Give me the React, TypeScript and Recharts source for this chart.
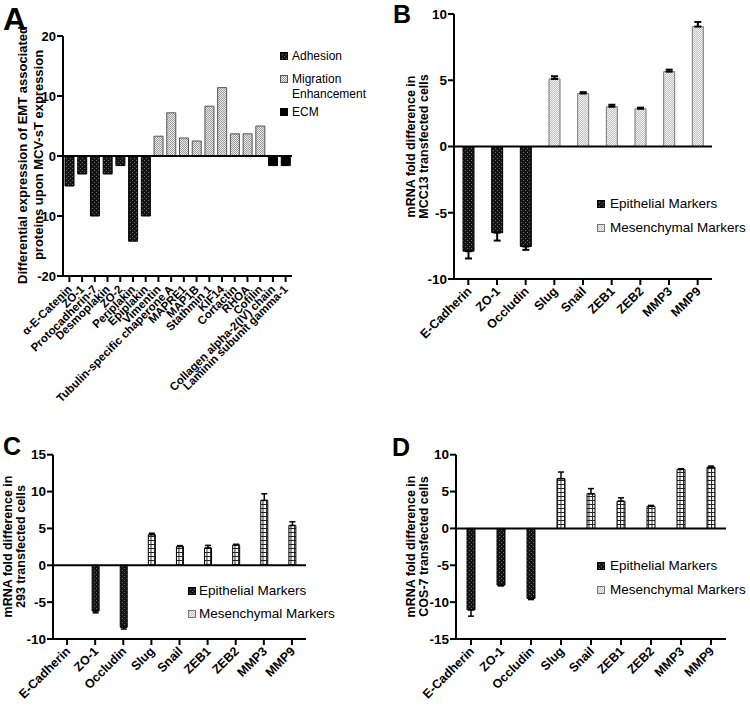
import React from 'react';
import { BarChart, Bar, XAxis, YAxis, Cell, ReferenceLine, ErrorBar } from 'recharts';

const FONT = '"Liberation Sans", Arial, Helvetica, sans-serif';

// ---------- Panel A data ----------
const aCategories = [
  'α-E-Catenin', 'ZO-1', 'Protocadherin-7', 'Desmoplakin', 'ZO-2', 'Periplakin', 'Epiplakin',
  'Vimentin', 'Tubulin-specific chaperone A', 'MAPRE1', 'MAP1B', 'Stathmin 1', 'KIF14', 'Cortactin',
  'RHOA', 'Cofilin', 'Collagen alpha-2(IV) chain', 'Laminin subunit gamma-1',
];
const aValues = [-5, -3, -10, -3, -1.6, -14.2, -10, 3.3, 7.2, 3, 2.5, 8.3, 11.4, 3.7, 3.7, 5, -1.6, -1.6];
const aGroups = [
  'Adhesion', 'Adhesion', 'Adhesion', 'Adhesion', 'Adhesion', 'Adhesion', 'Adhesion',
  'Migration', 'Migration', 'Migration', 'Migration', 'Migration', 'Migration', 'Migration', 'Migration', 'Migration',
  'ECM', 'ECM',
];
const aTicks = [-20, -10, 0, 10, 20];

// ---------- Panels B, C, D data ----------
const markers = ['E-Cadherin', 'ZO-1', 'Occludin', 'Slug', 'Snail', 'ZEB1', 'ZEB2', 'MMP3', 'MMP9'];
const markerGroups = ['Epithelial', 'Epithelial', 'Epithelial', 'Mesenchymal', 'Mesenchymal', 'Mesenchymal', 'Mesenchymal', 'Mesenchymal', 'Mesenchymal'];

const bValues = [-7.9, -6.5, -7.55, 5.1, 4.0, 3.0, 2.85, 5.65, 9.05];
const bErrors = [0.55, 0.6, 0.25, 0.2, 0.1, 0.15, 0.08, 0.15, 0.35];
const bTicks = [-10, -5, 0, 5, 10];

const cValues = [0, -6.2, -8.4, 4.15, 2.55, 2.35, 2.75, 8.8, 5.4];
const cErrors = [0, 0.25, 0.25, 0.2, 0.12, 0.35, 0.1, 0.9, 0.5];
const cTicks = [-10, -5, 0, 5, 10, 15];

const dValues = [-11.05, -7.7, -9.5, 6.75, 4.7, 3.7, 3.0, 8.0, 8.3];
const dErrors = [0.85, 0.1, 0.15, 0.9, 0.7, 0.45, 0.12, 0.1, 0.15];
const dTicks = [-15, -10, -5, 0, 5, 10];

const aData = aCategories.map((name, i) => ({ name, value: aValues[i], group: aGroups[i] }));
const buildMarkerData = (values: number[], errors: number[]) =>
  markers.map((name, i) => ({
    name,
    value: values[i],
    group: markerGroups[i],
    err: values[i] >= 0 ? [0, errors[i]] : [errors[i], 0],
  }));
const bData = buildMarkerData(bValues, bErrors);
const cData = buildMarkerData(cValues, cErrors);
const dData = buildMarkerData(dValues, dErrors);

// ---------- Patterns ----------
const Patterns = ({ s }: { s: string }) => (
  <defs>
    <pattern id={`dark${s}`} patternUnits="userSpaceOnUse" width={4} height={4}>
      <rect x={0} y={0} width={4} height={4} fill="#141414" />
      <rect x={0} y={0} width={1} height={1} fill="#6a6a6a" />
      <rect x={2} y={2} width={1} height={1} fill="#6a6a6a" />
    </pattern>
    <pattern id={`lightA${s}`} patternUnits="userSpaceOnUse" width={2} height={2}>
      <rect x={0} y={0} width={2} height={2} fill="#ececec" />
      <rect x={0} y={0} width={1} height={1} fill="#999" />
      <rect x={1} y={1} width={1} height={1} fill="#999" />
    </pattern>
    <pattern id={`lightB${s}`} patternUnits="userSpaceOnUse" width={2} height={2}>
      <rect x={0} y={0} width={2} height={2} fill="#f6f6f6" />
      <rect x={0} y={0} width={1} height={1} fill="#bdbdbd" />
      <rect x={1} y={1} width={1} height={1} fill="#bdbdbd" />
    </pattern>
    <pattern id={`dots${s}`} patternUnits="userSpaceOnUse" width={3.5} height={4}>
      <rect x={0} y={0} width={3.5} height={4} fill="#ffffff" />
      <rect x={0} y={0} width={3.5} height={1} fill="#222" />
      <rect x={0} y={0} width={1} height={4} fill="#222" />
    </pattern>
  </defs>
);

const RotTick = (props: any) => {
  const { x, y, payload, fs, ox, oy } = props;
  const px = x + ox;
  const py = y + oy;
  return (
    <text
      x={px}
      y={py}
      transform={`rotate(-45, ${px}, ${py})`}
      textAnchor="end"
      fontSize={fs}
      fontWeight="bold"
      fontFamily={FONT}
      fill="#000"
    >
      {payload.value}
    </text>
  );
};

const YLabel = ({ cx, cy, lines, fontSize, lineHeight, width }: any) => (
  <div
    style={{
      position: 'absolute',
      left: cx - width / 2,
      top: cy - (lines.length * lineHeight) / 2,
      width,
      height: lines.length * lineHeight,
      transform: 'rotate(-90deg)',
      transformOrigin: '50% 50%',
      textAlign: 'center',
      fontSize,
      lineHeight: `${lineHeight}px`,
      fontWeight: 'bold',
      fontFamily: FONT,
      whiteSpace: 'nowrap',
      color: '#000',
    }}
  >
    {lines.map((l: string, i: number) => (
      <div key={i}>{l}</div>
    ))}
  </div>
);

const Letter = ({ text, left, top, size }: any) => (
  <div
    style={{
      position: 'absolute',
      left,
      top,
      fontSize: size,
      lineHeight: `${size}px`,
      fontWeight: 'bold',
      fontFamily: FONT,
      color: '#000',
    }}
  >
    {text}
  </div>
);

const Swatch = ({ fill, stroke, s }: any) => (
  <svg width={8} height={8} style={{ display: 'block' }}>
    <Patterns s={s} />
    <rect x={0.5} y={0.5} width={7} height={7} fill={fill} stroke={stroke} strokeWidth={1} />
  </svg>
);

const LegendRow = ({ left, textLeft, cy, fontSize, lines, fill, stroke, s, lineHeight }: any) => (
  <>
    <div style={{ position: 'absolute', left, top: cy - 4 }}>
      <Swatch fill={fill} stroke={stroke} s={s} />
    </div>
    <div
      style={{
        position: 'absolute',
        left: textLeft,
        top: cy - lineHeight / 2,
        fontSize,
        lineHeight: `${lineHeight}px`,
        fontFamily: FONT,
        color: '#000',
        whiteSpace: 'nowrap',
      }}
    >
      {lines.map((l: string, i: number) => (
        <div key={i}>{l}</div>
      ))}
    </div>
  </>
);

const axisStyle = { stroke: '#000', strokeWidth: 2 };

const aFill: Record<string, string> = { Adhesion: 'url(#darkA)', Migration: 'url(#lightAA)', ECM: '#000' };
const aStroke: Record<string, string> = { Adhesion: '#000', Migration: '#555', ECM: '#000' };

const PanelA = () => (
  <div style={{ position: 'absolute', left: 0, top: 0 }}>
    <BarChart width={375} height={420} data={aData} margin={{ top: 36, right: 83, bottom: 14, left: 23 }}>
      <Patterns s="A" />
      <XAxis
        dataKey="name"
        interval={0}
        height={130}
        tickSize={6}
        tickLine={axisStyle}
        axisLine={axisStyle}
        tick={(p: any) => <RotTick {...p} fs={11.5} ox={3} oy={6} />}
      />
      <YAxis
        type="number"
        domain={[-20, 20]}
        ticks={aTicks}
        width={40}
        tickSize={6}
        tickMargin={1}
        tickLine={axisStyle}
        axisLine={axisStyle}
        tick={{ fontSize: 13, fontWeight: 'bold', fill: '#000', fontFamily: FONT }}
      />
      <Bar dataKey="value" barSize={9} isAnimationActive={false}>
        {aData.map((d, i) => (
          <Cell key={i} fill={aFill[d.group]} stroke={aStroke[d.group]} strokeWidth={1} />
        ))}
      </Bar>
      <ReferenceLine y={0} stroke="#000" strokeWidth={2} />
    </BarChart>
  </div>
);

const MarkerPanel = ({ left, top, width, height, data, domain, ticks, margin, barSize, s, mesFill, mesStroke, errW, errSW, xHeight }: any) => (
  <div style={{ position: 'absolute', left, top }}>
    <BarChart width={width} height={height} data={data} margin={margin}>
      <Patterns s={s} />
      <XAxis
        dataKey="name"
        interval={0}
        height={xHeight}
        tickSize={6}
        tickLine={axisStyle}
        axisLine={axisStyle}
        tick={(p: any) => <RotTick {...p} fs={12.5} ox={4} oy={5} />}
      />
      <YAxis
        type="number"
        domain={domain}
        ticks={ticks}
        width={30}
        tickSize={6}
        tickMargin={1}
        tickLine={axisStyle}
        axisLine={axisStyle}
        tick={{ fontSize: 13.5, fontWeight: 'bold', fill: '#000', fontFamily: FONT }}
      />
      <Bar dataKey="value" barSize={barSize} isAnimationActive={false}>
        {data.map((d: any, i: number) => (
          <Cell
            key={i}
            fill={d.group === 'Epithelial' ? `url(#dark${s})` : mesFill}
            stroke={d.group === 'Epithelial' ? '#000' : mesStroke}
            strokeWidth={1}
          />
        ))}
        <ErrorBar dataKey="err" width={errW} strokeWidth={errSW} stroke="#000" direction="y" isAnimationActive={false} />
      </Bar>
      <ReferenceLine y={0} stroke="#000" strokeWidth={2} />
    </BarChart>
  </div>
);

export default function App() {
  return (
    <div style={{ position: 'absolute', left: 0, top: 0, width: 750, height: 713, background: '#fff', overflow: 'hidden' }}>
      <PanelA />
      <MarkerPanel
        left={375} top={0} width={375} height={380}
        data={bData} domain={[-10, 10]} ticks={bTicks}
        margin={{ top: 14, right: 38, bottom: 11, left: 49 }} xHeight={90}
        barSize={11} s="B" mesFill="url(#lightBB)" mesStroke="#777" errW={3.5} errSW={2}
      />
      <MarkerPanel
        left={0} top={400} width={375} height={313}
        data={cData} domain={[-10, 15]} ticks={cTicks}
        margin={{ top: 54.7, right: 69, bottom: 4, left: 23 }} xHeight={70}
        barSize={7} s="C" mesFill="url(#dotsC)" mesStroke="#000" errW={3} errSW={1.5}
      />
      <MarkerPanel
        left={375} top={400} width={375} height={313}
        data={dData} domain={[-15, 10]} ticks={dTicks}
        margin={{ top: 54.7, right: 24, bottom: 4, left: 51 }} xHeight={70}
        barSize={8} s="D" mesFill="url(#dotsD)" mesStroke="#000" errW={3} errSW={1.5}
      />

      <Letter text="A" left={3} top={3} size={32} />
      <Letter text="B" left={393} top={2} size={25} />
      <Letter text="C" left={3} top={434} size={25} />
      <Letter text="D" left={392} top={435} size={25} />

      <YLabel cx={30.75} cy={155} width={300} fontSize={13} lineHeight={16}
        lines={['Differential expression of EMT associated', 'proteins upon MCV-sT expression']} />
      <YLabel cx={416.5} cy={146} width={220} fontSize={12.5} lineHeight={12.5}
        lines={['mRNA fold difference in', 'MCC13 transfected cells']} />
      <YLabel cx={14.2} cy={546} width={220} fontSize={12.5} lineHeight={12.5}
        lines={['mRNA fold difference in', '293 transfected cells']} />
      <YLabel cx={417} cy={546} width={220} fontSize={12.5} lineHeight={12.5}
        lines={['mRNA fold difference in', 'COS-7 transfected cells']} />

      {/* Legend A */}
      <LegendRow left={280} textLeft={292} cy={56} fontSize={12} lineHeight={15} lines={['Adhesion']} fill="url(#darkLA)" stroke="#000" s="LA" />
      <LegendRow left={280} textLeft={292} cy={79} fontSize={12} lineHeight={15} lines={['Migration', 'Enhancement']} fill="url(#lightALA2)" stroke="#555" s="LA2" />
      <LegendRow left={280} textLeft={292} cy={112} fontSize={12} lineHeight={15} lines={['ECM']} fill="#000" stroke="#000" s="LA3" />

      {/* Legend B */}
      <LegendRow left={597} textLeft={610} cy={204} fontSize={13.5} lineHeight={16} lines={['Epithelial Markers']} fill="url(#darkLB)" stroke="#000" s="LB" />
      <LegendRow left={597} textLeft={610} cy={227.7} fontSize={13.5} lineHeight={16} lines={['Mesenchymal Markers']} fill="url(#lightBLB2)" stroke="#777" s="LB2" />

      {/* Legend C */}
      <LegendRow left={188} textLeft={199} cy={590.7} fontSize={13.5} lineHeight={16} lines={['Epithelial Markers']} fill="url(#darkLC)" stroke="#000" s="LC" />
      <LegendRow left={188} textLeft={199} cy={614} fontSize={13.5} lineHeight={16} lines={['Mesenchymal Markers']} fill="url(#lightBLC2)" stroke="#777" s="LC2" />

      {/* Legend D */}
      <LegendRow left={597} textLeft={610} cy={565.7} fontSize={13.5} lineHeight={16} lines={['Epithelial Markers']} fill="url(#darkLD)" stroke="#000" s="LD" />
      <LegendRow left={597} textLeft={610} cy={590} fontSize={13.5} lineHeight={16} lines={['Mesenchymal Markers']} fill="url(#lightBLD2)" stroke="#777" s="LD2" />
    </div>
  );
}
